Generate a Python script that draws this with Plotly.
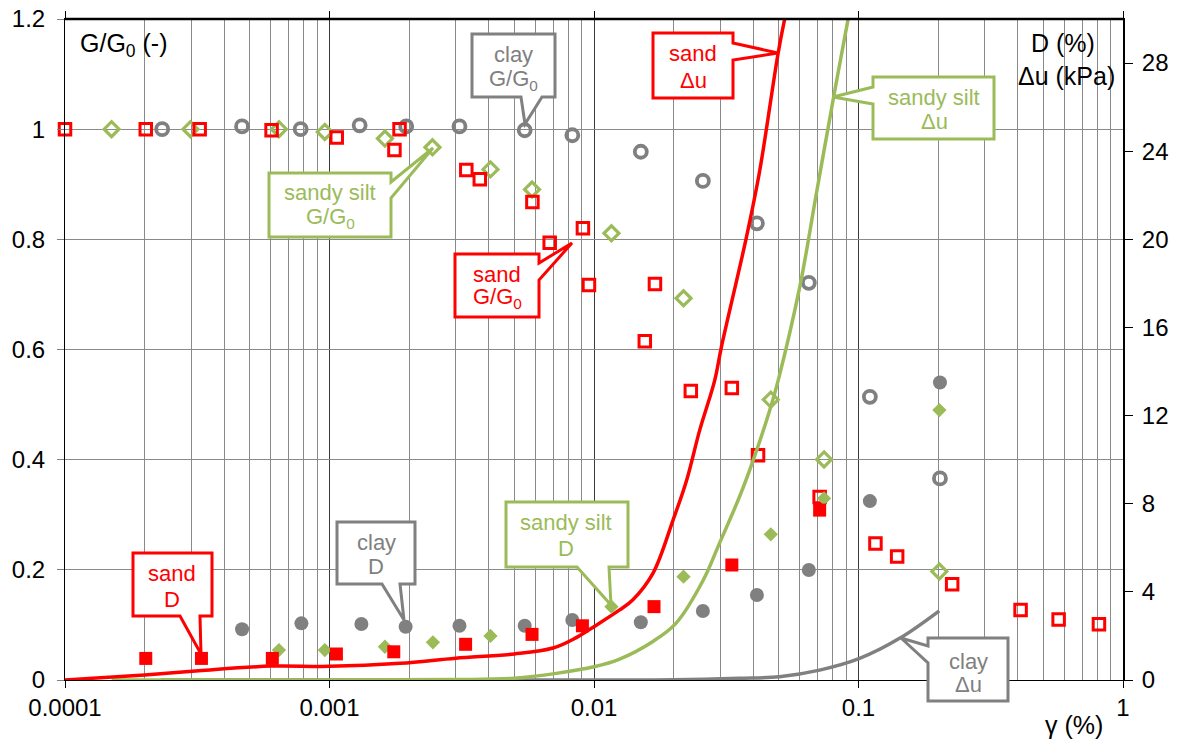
import plotly.graph_objects as go

# ---------------- data ----------------
# Sand G/G0 (open squares)
sand_g_x = [1e-4, 2.02e-4, 3.23e-4, 6.04e-4, 1.065e-3, 1.76e-3, 1.84e-3, 3.29e-3, 3.70e-3, 5.85e-3,
            6.80e-3, 9.08e-3, 9.57e-3, 0.01556, 0.0170, 0.02323, 0.0332, 0.0417, 0.0713, 0.1159,
            0.140, 0.226, 0.410, 0.571, 0.811]
sand_g_y = [1.0, 1.0, 1.0, 0.998, 0.985, 0.962, 1.0, 0.926, 0.909, 0.868,
            0.794, 0.820, 0.717, 0.615, 0.719, 0.5245, 0.530, 0.408, 0.332, 0.248,
            0.224, 0.174, 0.127, 0.110, 0.101]

# Sandy silt G/G0 (open diamonds)
silt_g_x = [1.50e-4, 2.98e-4, 6.44e-4, 9.6e-4, 1.62e-3, 2.45e-3, 4.06e-3, 5.83e-3, 0.01164, 0.0218,
            0.0466, 0.0741, 0.2022]
silt_g_y = [1.0, 1.0, 1.0, 0.995, 0.983, 0.967, 0.927, 0.8905, 0.811, 0.693,
            0.509, 0.4005, 0.197]

# Clay G/G0 (open circles)
clay_g_x = [2.33e-4, 4.67e-4, 7.78e-4, 1.30e-3, 1.95e-3, 3.10e-3, 5.47e-3, 8.28e-3, 0.01503, 0.0258,
            0.0413, 0.0649, 0.1104, 0.2032]
clay_g_y = [1.0, 1.005, 1.0, 1.007, 1.005, 1.005, 0.998, 0.989, 0.959, 0.906,
            0.829, 0.721, 0.514, 0.366]

# Sand D (%) (filled squares)
sand_d_x = [2.02e-4, 3.28e-4, 6.08e-4, 1.062e-3, 1.75e-3, 3.27e-3, 5.83e-3, 9.04e-3, 0.01686, 0.0332, 0.0713]
sand_d_y = [0.98, 0.98, 0.98, 1.18, 1.28, 1.62, 2.07, 2.46, 3.33, 5.22, 7.71]

# Sandy silt D (%) (filled diamonds)
silt_d_x = [6.44e-4, 9.6e-4, 1.62e-3, 2.46e-3, 4.06e-3, 0.01164, 0.0218, 0.0466, 0.0741, 0.2022]
silt_d_y = [1.36, 1.36, 1.51, 1.71, 2.0, 3.33, 4.69, 6.61, 8.24, 12.25]

# Clay D (%) (filled circles)
clay_d_x = [4.67e-4, 7.83e-4, 1.32e-3, 1.94e-3, 3.10e-3, 5.47e-3, 8.28e-3, 0.01503, 0.0258, 0.0413,
            0.0649, 0.1104, 0.2032]
clay_d_y = [2.30, 2.57, 2.54, 2.42, 2.46, 2.46, 2.72, 2.62, 3.13, 3.86,
            4.99, 8.12, 13.5]

# Pore pressure build-up du (kPa), lines
sand_u_x = [1e-4, 2e-4, 3.2e-4, 6e-4, 1e-3, 1.85e-3, 3e-3, 5e-3, 7e-3, 8.5e-3, 0.01, 0.0125, 0.014,
            0.0167, 0.0199, 0.0224, 0.0251, 0.0286, 0.0303, 0.0377, 0.0423, 0.0496, 0.0526, 0.055]
sand_u_y = [0, 0.23, 0.42, 0.63, 0.62, 0.76, 0.99, 1.18, 1.45, 1.9, 2.42, 3.18, 3.63,
            4.84, 7.26, 9.07, 11.34, 13.6, 15.1, 20.1, 23.1, 28.4, 30.0, 31.0]

silt_u_x = [1.5e-4, 1e-3, 3e-3, 5e-3, 7.2e-3, 0.01, 0.0125, 0.0167, 0.0204, 0.0259, 0.0298, 0.0355,
            0.0400, 0.0462, 0.0497, 0.0600, 0.0693, 0.0801, 0.0912, 0.095]
silt_u_y = [0, 0, 0.02, 0.08, 0.30, 0.60, 0.95, 1.75, 2.57, 4.54, 6.2, 8.32,
            9.98, 12.25, 13.6, 17.85, 22.08, 26.3, 29.95, 31.0]

clay_u_x = [2.3e-4, 0.01, 0.02, 0.0355, 0.0502, 0.0713, 0.101, 0.143, 0.202]
clay_u_y = [0, 0, 0.01, 0.08, 0.15, 0.45, 0.98, 1.89, 3.14]

x_tick_vals = [1e-4, 1e-3, 1e-2, 1e-1, 1]
x_tick_text = ["0.0001", "0.001", "0.01", "0.1", "1"]
y_tick_vals = [0, 0.2, 0.4, 0.6, 0.8, 1.0, 1.2]
y_tick_text = ["0", "0.2", "0.4", "0.6", "0.8", "1", "1.2"]
y2_tick_vals = [0, 4, 8, 12, 16, 20, 24, 28]
y2_tick_text = ["0", "4", "8", "12", "16", "20", "24", "28"]

# ---------------- styling ----------------
RED = "#FF0000"
GREEN = "#9BBB59"
GRAY = "#808080"
FONT = "Liberation Sans, Arial, sans-serif"

W, H = 1181, 740
ML, MR, MT, MB = 65, 58, 19, 60
PW, PH = W - ML - MR, H - MT - MB


def px(x):
    return (x - ML) / PW


def py(y):
    return (H - MB - y) / PH


fig = go.Figure()

# lines (du)
fig.add_trace(go.Scatter(x=clay_u_x, y=clay_u_y, mode="lines", line=dict(color=GRAY, width=3.5),
                         yaxis="y2", showlegend=False, line_shape="spline"))
fig.add_trace(go.Scatter(x=silt_u_x, y=silt_u_y, mode="lines", line=dict(color=GREEN, width=3.5),
                         yaxis="y2", showlegend=False, line_shape="spline"))
fig.add_trace(go.Scatter(x=sand_u_x, y=sand_u_y, mode="lines", line=dict(color=RED, width=3.5),
                         yaxis="y2", showlegend=False, line_shape="spline"))

# G/G0 open markers
fig.add_trace(go.Scatter(x=clay_g_x, y=clay_g_y, mode="markers", showlegend=False, cliponaxis=False,
                         marker=dict(symbol="circle-open", size=12, color=GRAY,
                                     line=dict(width=3.8, color=GRAY))))
fig.add_trace(go.Scatter(x=silt_g_x, y=silt_g_y, mode="markers", showlegend=False, cliponaxis=False,
                         marker=dict(symbol="diamond-open", size=11.5, color=GREEN,
                                     line=dict(width=3.2, color=GREEN))))
fig.add_trace(go.Scatter(x=sand_g_x, y=sand_g_y, mode="markers", showlegend=False, cliponaxis=False,
                         marker=dict(symbol="square-open", size=11.5, color=RED,
                                     line=dict(width=3, color=RED))))

# D filled markers
fig.add_trace(go.Scatter(x=clay_d_x, y=clay_d_y, mode="markers", yaxis="y2", showlegend=False,
                         marker=dict(symbol="circle", size=14, color=GRAY, line=dict(width=0))))
fig.add_trace(go.Scatter(x=silt_d_x, y=silt_d_y, mode="markers", yaxis="y2", showlegend=False,
                         marker=dict(symbol="diamond", size=11, color=GREEN, line=dict(width=0))))
fig.add_trace(go.Scatter(x=sand_d_x, y=sand_d_y, mode="markers", yaxis="y2", showlegend=False,
                         marker=dict(symbol="square", size=13, color=RED, line=dict(width=0))))

minor_vals = [k * 10 ** n for n in range(-4, 0) for k in range(2, 10)]

fig.update_layout(
    width=W, height=H,
    margin=dict(l=ML, r=MR, t=MT, b=MB, autoexpand=False),
    paper_bgcolor="white", plot_bgcolor="white",
    font=dict(family=FONT, size=24, color="black"),
    showlegend=False,
    xaxis=dict(type="log", range=[-4, 0], tickvals=x_tick_vals, ticktext=x_tick_text,
               automargin=False,
               showgrid=True, gridcolor="#3a3a3a", gridwidth=1,
               showline=True, linecolor="black", linewidth=1, mirror="ticks",
               ticks="outside", ticklen=7, tickcolor="black", layer="below traces",
               ticklabelstandoff=-1,
               tickfont=dict(size=24),
               minor=dict(tickvals=minor_vals, showgrid=True, gridcolor="#8a8a8a", gridwidth=1, ticks=""),
               zeroline=False),
    yaxis=dict(range=[0, 1.2], tickvals=y_tick_vals, ticktext=y_tick_text,
               automargin=False,
               showgrid=True, gridcolor="#8a8a8a", gridwidth=1,
               showline=True, linecolor="black", linewidth=1,
               ticks="outside", ticklen=7, tickcolor="#808080", ticklabelstandoff=7,
               tickfont=dict(size=24), zeroline=False),
    yaxis2=dict(range=[0, 30], tickvals=y2_tick_vals, ticktext=y2_tick_text,
                automargin=False,
                overlaying="y", side="right", showgrid=False,
                showline=True, linecolor="black", linewidth=2,
                ticks="outside", ticklen=8, tickcolor="black", ticklabelstandoff=4,
                tickfont=dict(size=24), zeroline=False),
)

shapes = []
annotations = []

# white box behind right-axis title
shapes.append(dict(type="rect", xref="paper", yref="paper", layer="between",
                   x0=px(1013), x1=px(1121), y0=py(91), y1=py(20),
                   fillcolor="white", line=dict(width=0)))
# top border (thick)
shapes.append(dict(type="line", xref="paper", yref="paper", x0=0, x1=1, y0=1, y1=1,
                   line=dict(color="black", width=2.5)))


def callout(box, side, b1, b2, tip, color):
    x0, y0, x1, y1 = box
    tx, ty = tip
    if side == "bottom":
        pts = [(x0, y0), (x1, y0), (x1, y1), (b2, y1), (tx, ty), (b1, y1), (x0, y1)]
    elif side == "right":
        pts = [(x0, y0), (x1, y0), (x1, b1), (tx, ty), (x1, b2), (x1, y1), (x0, y1)]
    else:  # left
        pts = [(x0, y0), (x1, y0), (x1, y1), (x0, y1), (x0, b2), (tx, ty), (x0, b1)]
    path = "M " + " L ".join(f"{px(a):.5f},{py(b):.5f}" for a, b in pts) + " Z"
    shapes.append(dict(type="path", xref="paper", yref="paper", path=path, layer="above",
                       fillcolor="white", line=dict(color=color, width=3)))


def label(xc, yc, text, color, size=22, anchor="center"):
    annotations.append(dict(xref="paper", yref="paper", x=px(xc), y=py(yc), text=text,
                            showarrow=False, xanchor=anchor, yanchor="middle",
                            font=dict(family=FONT, size=size, color=color)))


G0 = "G/G<sub>0</sub>"
DU = "\u0394u"

callout((472, 34, 555, 97), "bottom", 521, 542, (525, 124), GRAY)
label(513, 55, "clay", GRAY); label(513, 80, G0, GRAY)

callout((653, 33, 733, 98), "right", 43, 60, (778, 53), RED)
label(693, 54, "sand", RED); label(693, 80, DU, RED)

callout((873, 77, 994, 139), "left", 87, 104, (833, 97), GREEN)
label(934, 97, "sandy silt", GREEN); label(934, 122, DU, GREEN)

callout((269, 173, 391, 237), "right", 182, 198, (433, 148), GREEN)
label(330, 192, "sandy silt", GREEN); label(330, 218, G0, GREEN)

callout((455, 254, 539, 317), "right", 263, 280, (572, 243), RED)
label(497, 274, "sand", RED); label(497, 298, G0, RED)

callout((133, 553, 212, 616), "bottom", 180, 200, (201, 654), RED)
label(172, 573, "sand", RED); label(172, 599, "D", RED)

callout((337, 522, 415, 584), "bottom", 382, 400, (404, 620), GRAY)
label(376, 542, "clay", GRAY); label(376, 566, "D", GRAY)

callout((506, 502, 628, 567), "bottom", 577, 609, (611, 605), GREEN)
label(566, 522, "sandy silt", GREEN); label(566, 548, "D", GREEN)

callout((928, 638, 1008, 701), "left", 646, 663, (901, 638), GRAY)
label(968, 661, "clay", GRAY); label(968, 684, DU, GRAY)

# axis titles
label(78, 45, "G/G<sub>0</sub> (-)", "black", size=25, anchor="left")
label(1063, 43, "D (%)", "black", size=25)
label(1066, 76, "\u0394u (kPa)", "black", size=25)
label(1043, 725, "\u03b3 (%)", "black", size=25, anchor="left")

fig.update_layout(shapes=shapes, annotations=annotations)
fig.write_html("out.html")
